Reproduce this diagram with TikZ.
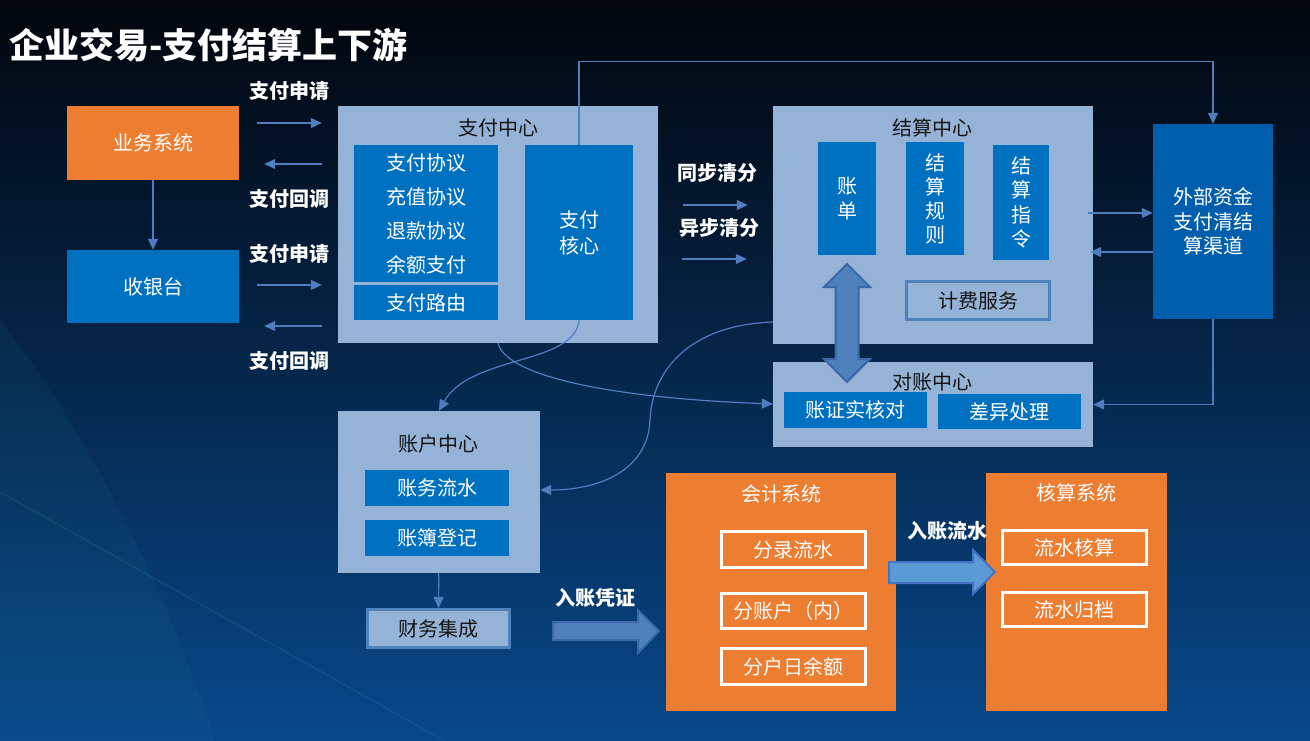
\documentclass[tikz,border=0pt]{standalone}
\usepackage{fontspec}
\setmainfont{Noto Sans CJK SC}
\usetikzlibrary{arrows.meta}
\definecolor{bgtop}{RGB}{2,5,12}
\definecolor{bgmid}{RGB}{2,22,52}
\definecolor{bgbot}{RGB}{8,72,138}
\definecolor{streak}{RGB}{40,140,150}
\definecolor{sysorange}{RGB}{237,125,49}
\definecolor{sysblue}{RGB}{0,112,192}
\definecolor{extblue}{RGB}{0,94,172}
\definecolor{paneblue}{RGB}{149,179,215}
\definecolor{linkblue}{RGB}{79,125,192}
\definecolor{fatfill}{RGB}{79,129,189}
\definecolor{fatdraw}{RGB}{58,104,168}
\definecolor{fatlight}{RGB}{91,155,213}
\definecolor{fatlightdraw}{RGB}{68,114,196}
\definecolor{panetext}{RGB}{20,20,20}

\begin{document}
\begin{tikzpicture}[x=1pt,y=-1pt,
		box/.style={rectangle,inner sep=0pt,align=center,font=\fontsize{20}{25}\selectfont},
		blue box/.style={box,fill=sysblue,text=white},
		orange box/.style={box,fill=sysorange,text=white},
		pane/.style={box,fill=paneblue},
		pane title/.style={box,text=panetext},
		framed pane/.style={box,fill=paneblue,text=panetext,draw=fatfill,line width=3pt},
		framed orange/.style={box,fill=sysorange,text=white,draw=white,line width=3pt},
		flow label/.style={inner sep=0pt,text=white,font=\fontsize{20}{23}\selectfont\bfseries},
		link/.style={draw=linkblue,line width=1.2pt,-{Triangle[length=11pt,width=10pt]}},
		fat arrow/.style={fill=fatfill,draw=fatdraw,line width=2pt}]
	\useasboundingbox (0,0) rectangle (1310,741);
	\shade[top color=bgtop,middle color=bgmid,bottom color=bgbot] (0,0) rectangle (1310,741);
	\fill[streak,opacity=0.08] (0,320) .. controls (100,450) and (170,600) .. (215,741) -- (0,741) -- cycle;
	\draw[streak,opacity=0.25,line width=1pt] (0,492) -- (445,741);

	\node[anchor=west,inner sep=0pt,text=white,font=\fontsize{35}{40}\selectfont\bfseries] (title) at (9,45) {企业交易-支付结算上下游};

	\node[orange box,minimum width=172pt,minimum height=74pt] (biz) at (153,143) {业务系统};
	\node[blue box,minimum width=172pt,minimum height=73pt] (cash) at (153,286.5) {收银台};

	\node[pane,minimum width=320pt,minimum height=237pt] (pay) at (498,224.5) {};
	\node[pane title] (paytitle) at (498,128) {支付中心};
	\node[blue box,minimum width=144pt,minimum height=137pt,font=\fontsize{20}{34}\selectfont] (agr) at (426,213.5) {支付协议\\充值协议\\退款协议\\余额支付};
	\node[blue box,minimum width=144pt,minimum height=35pt] (route) at (426,302.5) {支付路由};
	\node[blue box,minimum width=108pt,minimum height=175pt,font=\fontsize{20}{26}\selectfont] (core) at (579,232.5) {支付\\核心};

	\node[pane,minimum width=320pt,minimum height=238pt] (settle) at (933,225) {};
	\node[pane title] (settletitle) at (932,128) {结算中心};
	\node[blue box,minimum width=58pt,minimum height=113pt] (bill) at (847,198.5) {账\\单};
	\node[blue box,minimum width=58pt,minimum height=113pt,font=\fontsize{20}{24}\selectfont] (rule) at (935,198.5) {结\\算\\规\\则};
	\node[blue box,minimum width=56pt,minimum height=115pt,font=\fontsize{20}{24.5}\selectfont] (instr) at (1021,202.5) {结\\算\\指\\令};
	\node[framed pane,minimum width=143pt,minimum height=38pt] (fee) at (978,300.5) {计费服务};

	\node[box,fill=extblue,text=white,minimum width=120pt,minimum height=195pt,font=\fontsize{20}{24.5}\selectfont] (ext) at (1213,221.5) {外部资金\\支付清结\\算渠道};

	\node[pane,minimum width=320pt,minimum height=85pt] (recon) at (933,404.5) {};
	\node[pane title] (recontitle) at (932,382) {对账中心};
	\node[blue box,minimum width=143pt,minimum height=36pt] (check) at (855.5,410) {账证实核对};
	\node[blue box,minimum width=143pt,minimum height=35pt] (diff) at (1009.5,411.5) {差异处理};

	\node[pane,minimum width=202pt,minimum height=162pt] (acct) at (439,492) {};
	\node[pane title] (accttitle) at (438,444) {账户中心};
	\node[blue box,minimum width=144pt,minimum height=36pt] (journal) at (437,488) {账务流水};
	\node[blue box,minimum width=144pt,minimum height=36pt] (ledger) at (437,538) {账簿登记};
	\node[framed pane,minimum width=142pt,minimum height=38pt] (fin) at (438.5,628.5) {财务集成};

	\node[orange box,minimum width=230pt,minimum height=238pt] (acc) at (781,592) {};
	\node[box,text=white] (acctitle) at (781,494) {会计系统};
	\node[framed orange,minimum width=144pt,minimum height=36pt] (entry) at (793.5,549.5) {分录流水};
	\node[framed orange,minimum width=144pt,minimum height=35pt] (sub) at (793.5,611) {分账户（内）};
	\node[framed orange,minimum width=144pt,minimum height=36pt] (daybal) at (793.5,666.5) {分户日余额};

	\node[orange box,minimum width=181pt,minimum height=238pt] (audit) at (1076.5,592) {};
	\node[box,text=white] (audittitle) at (1076,493) {核算系统};
	\node[framed orange,minimum width=144pt,minimum height=34pt] (fcheck) at (1074.5,547.5) {流水核算};
	\node[framed orange,minimum width=144pt,minimum height=34pt] (farch) at (1074.5,609.5) {流水归档};

	\node[flow label] (req1) at (289,91) {支付申请};
	\node[flow label] (cb1) at (289,199) {支付回调};
	\node[flow label] (req2) at (289,254) {支付申请};
	\node[flow label] (cb2) at (289,361) {支付回调};
	\node[flow label] (sync) at (717,173) {同步清分};
	\node[flow label] (async) at (719,228) {异步清分};
	\node[flow label] (voucher) at (595,598) {入账凭证};
	\node[flow label] (posting) at (947,531) {入账流水};

	\draw (biz) edge[link] (cash);
	\draw[link,shorten <=18pt,shorten >=16pt] (biz.east |- 0,123) -- (pay.west |- 0,123);
	\draw[link,shorten <=16pt,shorten >=25pt] (pay.west |- 0,164) -- (biz.east |- 0,164);
	\draw[link,shorten <=18pt,shorten >=16pt] (cash.east |- 0,285) -- (pay.west |- 0,285);
	\draw[link,shorten <=16pt,shorten >=25pt] (pay.west |- 0,326) -- (cash.east |- 0,326);
	\draw[link,shorten <=25pt,shorten >=25pt] (pay.east |- 0,205) -- (settle.west |- 0,205);
	\draw[link,shorten <=24pt,shorten >=26pt] (pay.east |- 0,259) -- (settle.west |- 0,259);
	\draw[link,shorten <=-5pt] (settle.east |- 0,213) -- (ext.west |- 0,213);
	\draw[link,shorten >=-3pt] (ext.west |- 0,252) -- (settle.east |- 0,252);
	\draw[link] (core.north) -- ++(0,-83) -| (ext.north);
	\draw[link] (ext.south) |- (recon.east);
	\draw (acct) edge[link] (fin);
	\draw[link] (pay.south) .. controls (505,372) and (590,397) .. (recon.west |- 0,404);
	\draw[link] (core.south) .. controls (575,365) and (470,355) .. (acct.north);
	\draw[link] (settle.west |- 0,322) .. controls (690,325) and (652,370) .. (650,420) .. controls (648,470) and (600,490) .. (acct.east |- 0,490);

	\filldraw[fat arrow] (847,264) -- (870,287) -- (858.5,287) -- (858.5,359) -- (870,359) -- (847,382) -- (824,359) -- (835.5,359) -- (835.5,287) -- (824,287) -- cycle;
	\filldraw[fat arrow] (553,622) -- (638,622) -- (638,610) -- (659,631) -- (638,653) -- (638,640) -- (553,640) -- cycle;
	\filldraw[fat arrow,fill=fatlight,draw=fatlightdraw] (889,562) -- (973,562) -- (973,550) -- (995,572) -- (973,594) -- (973,583) -- (889,583) -- cycle;
\end{tikzpicture}
\end{document}
